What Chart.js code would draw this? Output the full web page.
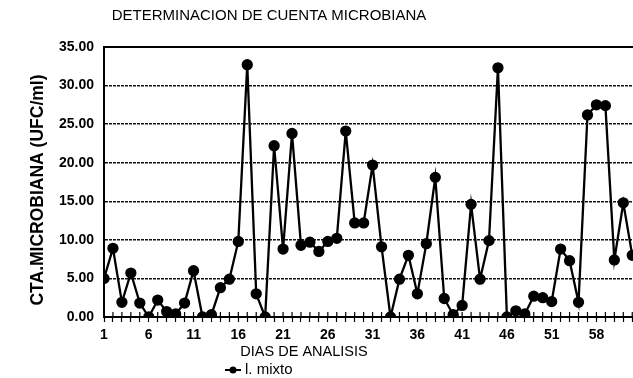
<!DOCTYPE html>
<html>
<head>
<meta charset="utf-8">
<script src="https://cdn.jsdelivr.net/npm/chart.js@4"></script>
<style>
  html, body { margin: 0; padding: 0; background: #fff; overflow: hidden; }
  #wrap { width: 648px; height: 378px; }
</style>
</head>
<body>
<div id="wrap"><canvas id="myChart"></canvas></div>
<script>
// daily microbial counts, UFC/ml
const days = [];
for (let d = 1; d <= 60; d++) days.push(d);
const counts = [
    5.0, 8.9, 1.9, 5.7, 1.8, 0.0, 2.2, 0.7, 0.4, 1.8,
    6.0, 0.0, 0.3, 3.8, 4.9, 9.8, 32.7, 3.0, 0.0, 22.2,
    8.8, 23.8, 9.3, 9.7, 8.5, 9.8, 10.2, 24.1, 12.2, 12.2,
    19.7, 9.1, 0.0, 4.9, 8.0, 3.0, 9.5, 18.1, 2.4, 0.3,
    1.5, 14.6, 4.9, 9.9, 32.3, 0.0, 0.8, 0.4, 2.7, 2.5,
    2.0, 8.8, 7.3, 1.9, 26.2, 27.5, 27.4, 7.4, 14.8, 8.0
];
const tickLabels = ['1', '6', '11', '16', '21', '26', '31', '36', '41', '46', '51', '58'];
const yTicks = [0, 5, 10, 15, 20, 25, 30, 35];

const titleText = 'DETERMINACION DE CUENTA MICROBIANA';
const xTitle = 'DIAS DE ANALISIS';
const yTitle = 'CTA.MICROBIANA (UFC/ml)';

const FONT = "'Liberation Sans', Arial, sans-serif";

// titles, legend, solid top frame and the upper half of the x tick crosses
const decor = {
    id: 'decor',
    afterDraw(chart) {
        const ctx = chart.ctx;
        const area = chart.chartArea;
        const xs = chart.scales.x;
        ctx.save();
        ctx.strokeStyle = '#000';
        ctx.fillStyle = '#000';

        ctx.lineWidth = 2;
        ctx.beginPath();
        ctx.moveTo(area.left, area.top);
        ctx.lineTo(area.right, area.top);
        ctx.stroke();

        ctx.lineWidth = 1.2;
        ctx.beginPath();
        xs.ticks.forEach(t => {
            const px = xs.getPixelForValue(t.value);
            ctx.moveTo(px, area.bottom);
            ctx.lineTo(px, area.bottom - 5);
        });
        ctx.stroke();

        ctx.textAlign = 'center';
        ctx.textBaseline = 'middle';
        ctx.font = '15px ' + FONT;
        ctx.fillText(titleText, area.left + 165, area.top - 31);

        ctx.font = '14.5px ' + FONT;
        ctx.fillText(xTitle, area.left + 200, area.bottom + 35);

        ctx.save();
        ctx.translate(area.left - 66, area.top + 143);
        ctx.rotate(-Math.PI / 2);
        ctx.font = 'bold 17.5px ' + FONT;
        ctx.fillText(yTitle, 0, 0);
        ctx.restore();

        // legend entry: line with dot, then series name
        const ds = chart.data.datasets[0];
        const ly = area.bottom + 53;
        const lx = area.left + 121;
        ctx.lineWidth = 2;
        ctx.beginPath();
        ctx.moveTo(lx, ly);
        ctx.lineTo(lx + 16, ly);
        ctx.stroke();
        ctx.beginPath();
        ctx.arc(lx + 8, ly, 3.5, 0, Math.PI * 2);
        ctx.fill();
        ctx.textAlign = 'left';
        ctx.font = '15px ' + FONT;
        ctx.fillText(ds.label, lx + 20, ly);

        ctx.restore();
    }
};

const data = {
    datasets: [{
        label: 'l. mixto',
        data: days.map((d, i) => ({ x: d, y: counts[i] })),
        borderColor: '#000',
        backgroundColor: '#000',
        borderWidth: 2.3,
        pointRadius: 4.5,
        pointHoverRadius: 4.5,
        pointBackgroundColor: '#000',
        tension: 0
    }]
};

const config = {
    type: 'line',
    data: data,
    plugins: [decor],
    options: {
        responsive: true,
        maintainAspectRatio: false,
        animation: false,
        layout: { padding: { left: 0, right: 0, top: 47, bottom: 0 } },
        plugins: {
            title: { display: false },
            legend: { display: false },
            tooltip: { enabled: false }
        },
        scales: {
            x: {
                type: 'linear',
                min: 1,
                max: 61,
                afterFit(s) { s.height = 61; },
                ticks: {
                    stepSize: 1,
                    maxTicksLimit: 100,
                    autoSkip: false,
                    maxRotation: 0,
                    padding: 5,
                    color: '#000',
                    font: { family: FONT, size: 14, weight: 'bold' },
                    callback(v) {
                        return (v - 1) % 5 === 0 ? (tickLabels[(v - 1) / 5] || '') : '';
                    }
                },
                grid: {
                    drawOnChartArea: false,
                    drawTicks: true,
                    tickLength: 5,
                    tickWidth: 1.2,
                    tickColor: '#000'
                },
                border: { display: true, color: '#000', width: 2 }
            },
            y: {
                min: 0,
                max: 35,
                afterFit(s) { s.width = 104; },
                afterBuildTicks(s) { s.ticks = yTicks.map(v => ({ value: v })); },
                ticks: {
                    padding: 10,
                    color: '#000',
                    font: { family: FONT, size: 14, weight: 'bold' },
                    callback(v) { return v.toFixed(2); }
                },
                grid: {
                    color: '#111',
                    lineWidth: 1.4,
                    drawTicks: false
                },
                border: { display: true, color: '#000', width: 2, dash: [3, 1] }
            }
        }
    }
};

var myChart = new Chart(document.getElementById('myChart'), config);
</script>
</body>
</html>
